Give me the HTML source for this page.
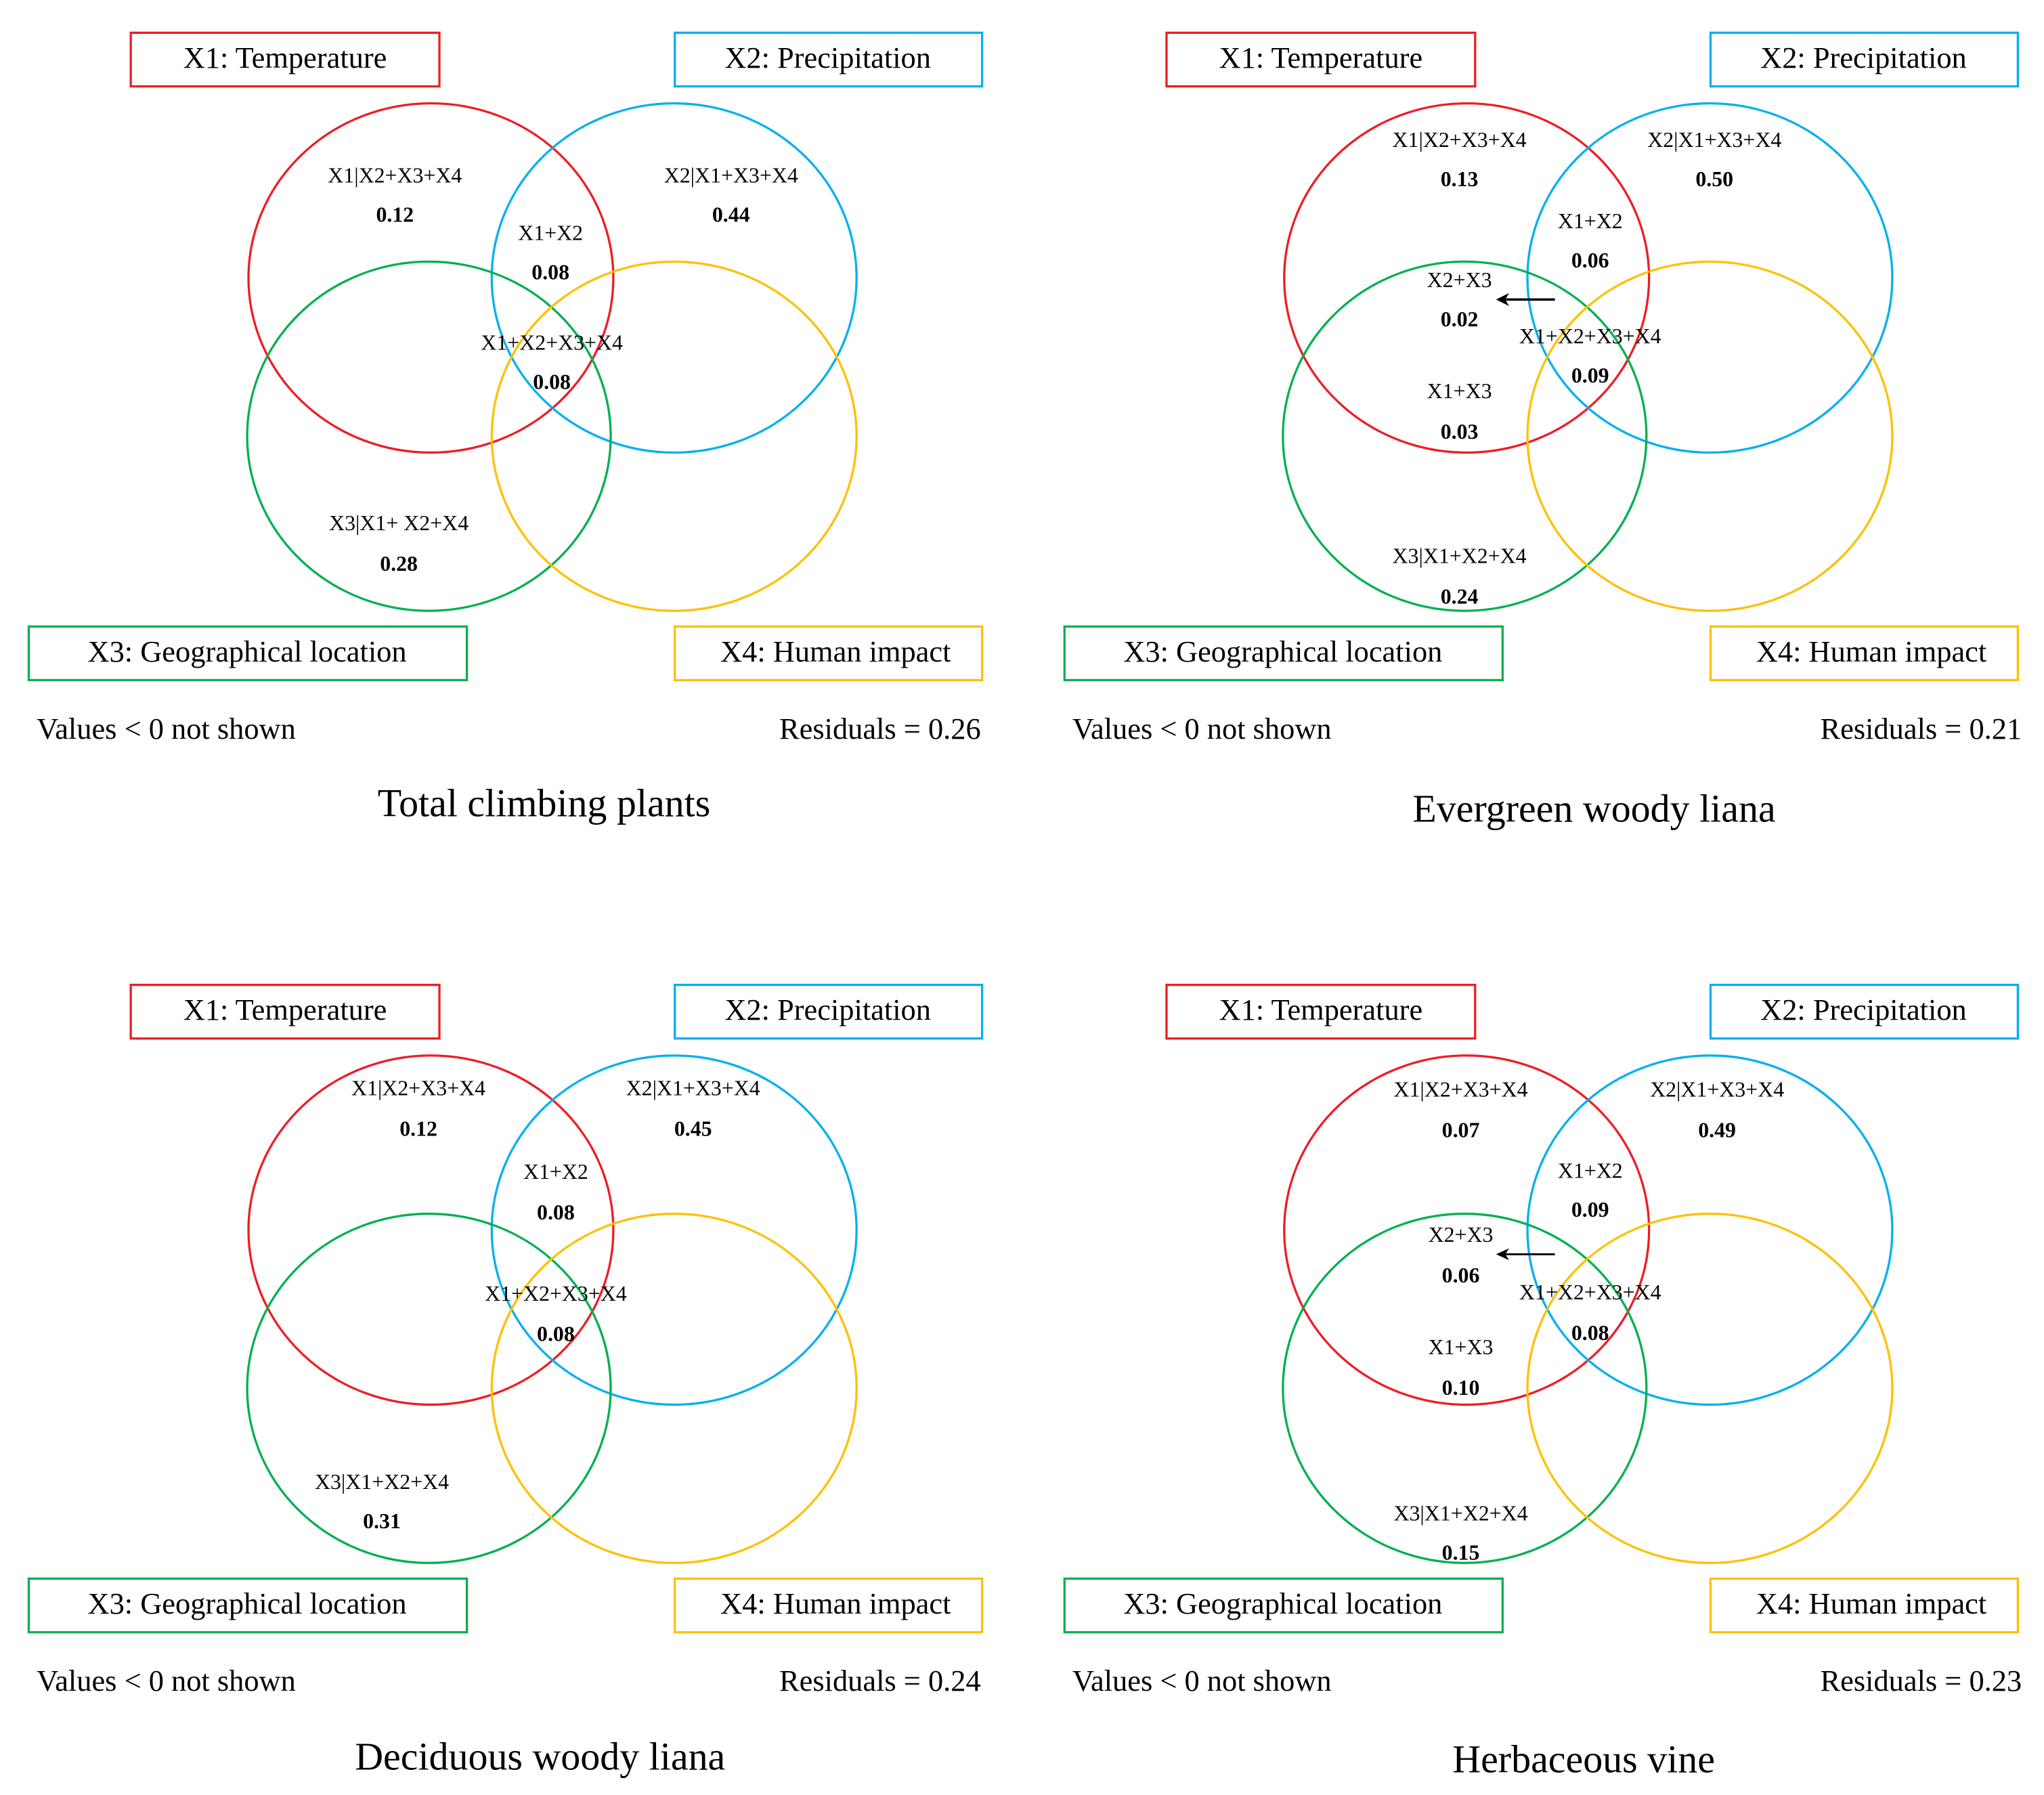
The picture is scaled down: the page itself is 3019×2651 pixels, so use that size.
<!DOCTYPE html>
<html><head><meta charset="utf-8"><style>html,body{margin:0;padding:0;background:#fff}svg{display:block}text{font-family:"Liberation Serif",serif;fill:#000}</style></head>
<body>
<svg xmlns="http://www.w3.org/2000/svg" width="3019" height="2651" viewBox="0 0 1563 1372.4">
<defs>
<g id="base" fill="none" stroke-width="1.7">
<rect x="100" y="25" width="236" height="41" stroke="#ee1c25"/>
<rect x="516" y="25" width="235" height="41" stroke="#00b0f0"/>
<rect x="22" y="479" width="335" height="41" stroke="#00b050"/>
<rect x="516" y="479" width="235" height="41" stroke="#ffc000"/>
<ellipse cx="329.5" cy="212.5" rx="139.5" ry="133.5" stroke="#ee1c25"/>
<ellipse cx="515.5" cy="212.5" rx="139.5" ry="133.5" stroke="#00b0f0"/>
<ellipse cx="328" cy="333.5" rx="139" ry="133.5" stroke="#00b050"/>
<ellipse cx="515.5" cy="333.5" rx="139.5" ry="133.5" stroke="#ffc000"/>
<g stroke="none" font-size="23" text-anchor="middle" dominant-baseline="central">
<text x="218" y="44" fill="#000">X1: Temperature</text>
<text x="633" y="44" fill="#000">X2: Precipitation</text>
<text x="189" y="498" fill="#000">X3: Geographical location</text>
<text x="639" y="498" fill="#000">X4: Human impact</text>
<text x="28" y="557" text-anchor="start" fill="#000">Values &lt; 0 not shown</text>
</g>
</g>
</defs>
<g font-size="16.5" text-anchor="middle" dominant-baseline="central">
<!-- top-left -->
<use href="#base"/>
<text x="302" y="134">X1|X2+X3+X4</text><text x="302" y="164" font-weight="bold">0.12</text>
<text x="559" y="134">X2|X1+X3+X4</text><text x="559" y="164" font-weight="bold">0.44</text>
<text x="421" y="178">X1+X2</text><text x="421" y="208" font-weight="bold">0.08</text>
<text x="422" y="262">X1+X2+X3+X4</text><text x="422" y="292" font-weight="bold">0.08</text>
<text x="305" y="400">X3|X1+ X2+X4</text><text x="305" y="431" font-weight="bold">0.28</text>
<text x="750" y="557" font-size="23" text-anchor="end">Residuals = 0.26</text>
<text x="416" y="614" font-size="30">Total climbing plants</text>

<!-- top-right -->
<g transform="translate(792,0)">
<use href="#base"/>
<text x="324" y="107">X1|X2+X3+X4</text><text x="324" y="137" font-weight="bold">0.13</text>
<text x="519" y="107">X2|X1+X3+X4</text><text x="519" y="137" font-weight="bold">0.50</text>
<text x="424" y="169">X1+X2</text><text x="424" y="199" font-weight="bold">0.06</text>
<text x="324" y="214">X2+X3</text><text x="324" y="244" font-weight="bold">0.02</text>
<line x1="397" y1="229" x2="358" y2="229" stroke="#000" stroke-width="1.8"/><path d="M352,229 L362,224 L359,229 L362,234 Z" fill="#000"/>
<text x="424" y="257">X1+X2+X3+X4</text><text x="424" y="287" font-weight="bold">0.09</text>
<text x="324" y="299">X1+X3</text><text x="324" y="330" font-weight="bold">0.03</text>
<text x="324" y="425">X3|X1+X2+X4</text><text x="324" y="456" font-weight="bold">0.24</text>
<text x="754" y="557" font-size="23" text-anchor="end">Residuals = 0.21</text>
<text x="427" y="618" font-size="30">Evergreen woody liana</text>
</g>

<!-- bottom-left -->
<g transform="translate(0,728)">
<use href="#base"/>
<text x="320" y="104">X1|X2+X3+X4</text><text x="320" y="135" font-weight="bold">0.12</text>
<text x="530" y="104">X2|X1+X3+X4</text><text x="530" y="135" font-weight="bold">0.45</text>
<text x="425" y="168">X1+X2</text><text x="425" y="199" font-weight="bold">0.08</text>
<text x="425" y="261">X1+X2+X3+X4</text><text x="425" y="292" font-weight="bold">0.08</text>
<text x="292" y="405">X3|X1+X2+X4</text><text x="292" y="435" font-weight="bold">0.31</text>
<text x="750" y="557" font-size="23" text-anchor="end">Residuals = 0.24</text>
<text x="413" y="615" font-size="30">Deciduous woody liana</text>
</g>

<!-- bottom-right -->
<g transform="translate(792,728)">
<use href="#base"/>
<text x="325" y="105">X1|X2+X3+X4</text><text x="325" y="136" font-weight="bold">0.07</text>
<text x="521" y="105">X2|X1+X3+X4</text><text x="521" y="136" font-weight="bold">0.49</text>
<text x="424" y="167">X1+X2</text><text x="424" y="197" font-weight="bold">0.09</text>
<text x="325" y="216">X2+X3</text><text x="325" y="247" font-weight="bold">0.06</text>
<line x1="397" y1="231" x2="358" y2="231" stroke="#000" stroke-width="1.5"/><path d="M352,231 L362,226.5 L359,231 L362,235.5 Z" fill="#000"/>
<text x="424" y="260">X1+X2+X3+X4</text><text x="424" y="291" font-weight="bold">0.08</text>
<text x="325" y="302">X1+X3</text><text x="325" y="333" font-weight="bold">0.10</text>
<text x="325" y="429">X3|X1+X2+X4</text><text x="325" y="459" font-weight="bold">0.15</text>
<text x="754" y="557" font-size="23" text-anchor="end">Residuals = 0.23</text>
<text x="419" y="617" font-size="30">Herbaceous vine</text>
</g>
</g>
</svg>
</body></html>
